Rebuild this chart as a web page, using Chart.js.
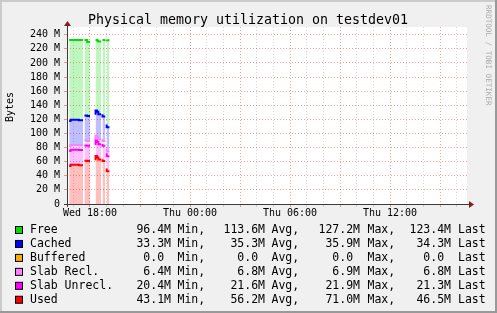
<!DOCTYPE html>
<html>
<head>
<meta charset="utf-8">
<script src="https://cdn.jsdelivr.net/npm/chart.js@4"></script>
<style>
  html, body { margin: 0; padding: 0; background: #f0f0f0; }
  #wrap { width: 497px; height: 313px; }
</style>
</head>
<body>
<div id="wrap"><canvas id="chart" width="497" height="313"></canvas></div>
<script>
// --- Data (values in M) ---
const chartTitle = 'Physical memory utilization on testdev01';
const yTitle = 'Bytes';
const watermark = 'RRDTOOL / TOBI OETIKER';

// sample start times on Wed, 5 minute steps (each value holds for its step)
const sampleTimes = ['16:45', '16:50', '16:55', '17:00', '17:05', '17:10', '17:15', '17:20', '17:25', '17:30',
  '17:35', '17:40', '17:45', '17:50', '17:55', '18:00', '18:05', '18:10', '18:15', '18:20',
  '18:25', '18:30', '18:35', '18:40', '18:45', '18:50', '18:55', '19:00', '19:05'];
const stepMinutes = 5;

const usedData = [54.0, 54.0, 55.5, 55.5, 55.5, 55.5, 55.5, 55.5, 55.0, 55.0,
  null, 61.5, 61.5, 61.5, 61.0, null, null, null, null, 62.0,
  68.0, 66.0, 63.0, null, 63.5, 61.0, null, 50.5, 46.5];
const slabUnreclData = [21.3, 21.3, 21.4, 21.4, 21.4, 21.4, 21.4, 21.4, 21.4, 21.4,
  null, 21.6, 21.6, 21.6, 21.6, null, null, null, null, 21.8,
  21.9, 21.9, 21.8, null, 21.6, 21.5, null, 21.3, 21.3];
const slabReclData = [6.8, 6.8, 6.8, 6.8, 6.8, 6.8, 6.8, 6.8, 6.8, 6.8,
  null, 6.9, 6.9, 6.9, 6.9, null, null, null, null, 6.9,
  6.9, 6.9, 6.9, null, 6.8, 6.8, null, 6.8, 6.8];
const bufferedData = [0, 0, 0, 0, 0, 0, 0, 0, 0, 0,
  null, 0, 0, 0, 0, null, null, null, null, 0,
  0, 0, 0, null, 0, 0, null, 0, 0];
const cachedData = [35.5, 35.5, 35.6, 35.6, 35.6, 35.6, 35.6, 35.6, 35.6, 35.6,
  null, 35.4, 35.4, 35.4, 35.4, null, null, null, null, 35.8,
  35.9, 35.9, 35.7, null, 35.3, 34.8, null, 34.3, 34.3];
const freeData = [114.9, 114.9, 113.2, 113.2, 113.2, 113.2, 113.2, 113.2, 113.7, 113.7,
  null, 107.1, 107.1, 107.1, 105.0, null, null, null, null, 106.0,
  99.8, 101.3, 103.1, null, 105.3, 108.4, null, 119.6, 123.4];

// legend (top to bottom)
const legendNames = ['Free', 'Cached', 'Buffered', 'Slab Recl.', 'Slab Unrecl.', 'Used'];
const legendColors = ['#00dd00', '#0000ff', '#ffaa00', '#ff80ff', '#ff00ff', '#ff0000'];
const minVals = ['96.4M', '33.3M', '0.0 ', '6.4M', '20.4M', '43.1M'];
const avgVals = ['113.6M', '35.3M', '0.0 ', '6.8M', '21.6M', '56.2M'];
const maxVals = ['127.2M', '35.9M', '0.0 ', '6.9M', '21.9M', '71.0M'];
const lastVals = ['123.4M', '34.3M', '0.0 ', '6.8M', '21.3M', '46.5M'];

// axes
const yTicks = [0, 20, 40, 60, 80, 100, 120, 140, 160, 180, 200, 220, 240];
const xGridHours = [17, 18, 19, 20, 21, 22, 23, 24, 25, 26, 27, 28, 29, 30, 31, 32, 33, 34, 35, 36, 37, 38, 39, 40];
const xLabelHours = [18, 24, 30, 36];
const xLabelTexts = ['Wed 18:00', 'Thu 00:00', 'Thu 06:00', 'Thu 12:00'];

// --- Helpers ---
const FONT = 'DejaVu Sans Mono';
const majorGrid = 'rgba(235, 40, 40, 0.45)';
const minorGrid = 'rgba(140, 140, 140, 0.35)';
const STEP_H = stepMinutes / 60;

function toHours(hhmm) {
  const [h, m] = hhmm.split(':').map(Number);
  return h + m / 60;
}

// rrdtool style: each value covers its whole step; a missing step leaves a gap
function series(values) {
  const pts = [];
  values.forEach((v, i) => {
    const t = toHours(sampleTimes[i]);
    if (v === null) {
      pts.push({ x: t + STEP_H / 2, y: null });
      return;
    }
    pts.push({ x: t, y: v });
    const next = values[i + 1];
    if (next === undefined || next === null) pts.push({ x: t + STEP_H, y: v });
  });
  return pts;
}

function fillOf(hex, a) {
  const n = parseInt(hex.slice(1), 16);
  return `rgba(${(n >> 16) & 255}, ${(n >> 8) & 255}, ${n & 255}, ${a})`;
}

// stacking order bottom -> top
const stackOrder = [
  { name: 'Used', data: usedData },
  { name: 'Slab Unrecl.', data: slabUnreclData },
  { name: 'Slab Recl.', data: slabReclData },
  { name: 'Buffered', data: bufferedData },
  { name: 'Cached', data: cachedData },
  { name: 'Free', data: freeData }
];

const datasets = stackOrder.map((s, idx) => {
  const color = legendColors[legendNames.indexOf(s.name)];
  return {
    label: s.name,
    data: series(s.data),
    borderColor: color,
    backgroundColor: fillOf(color, 0.25),
    borderWidth: s.name === 'Buffered' ? 0 : 2,
    fill: idx === 0 ? 'origin' : '-1',
    stepped: 'after',
    pointRadius: 0,
    spanGaps: false
  };
});

// --- Decorations: background, title, axes arrows, legend, frame ---
const rrdDecor = {
  id: 'rrdDecor',
  beforeDraw(chart) {
    const { ctx, chartArea: a } = chart;
    ctx.save();
    ctx.fillStyle = '#f0f0f0';
    ctx.fillRect(0, 0, chart.width, chart.height);
    ctx.fillStyle = '#ffffff';
    ctx.fillRect(a.left, a.top, a.right - a.left, a.bottom - a.top);
    ctx.restore();
  },
  afterDraw(chart) {
    const { ctx, chartArea: a } = chart;
    ctx.save();

    // title
    ctx.fillStyle = '#000';
    ctx.font = `13.3px "${FONT}"`;
    ctx.textAlign = 'center';
    ctx.textBaseline = 'alphabetic';
    ctx.fillText(chartTitle, 248, 24);

    // axis lines
    ctx.strokeStyle = '#3a3a3a';
    ctx.lineWidth = 1;
    ctx.beginPath();
    ctx.moveTo(a.left - 3, a.bottom + 0.5);
    ctx.lineTo(a.right + 3, a.bottom + 0.5);
    ctx.moveTo(a.left + 0.5, a.bottom + 3);
    ctx.lineTo(a.left + 0.5, a.top - 3);
    ctx.stroke();

    // arrows
    ctx.fillStyle = '#8b1a1a';
    ctx.beginPath();
    ctx.moveTo(a.right + 2, a.bottom - 3);
    ctx.lineTo(a.right + 7, a.bottom + 0.5);
    ctx.lineTo(a.right + 2, a.bottom + 4);
    ctx.closePath();
    ctx.fill();
    ctx.beginPath();
    ctx.moveTo(a.left - 3, a.top - 1);
    ctx.lineTo(a.left + 0.5, a.top - 6);
    ctx.lineTo(a.left + 4, a.top - 1);
    ctx.closePath();
    ctx.fill();

    // y title
    ctx.fillStyle = '#000';
    ctx.font = `10px "${FONT}"`;
    ctx.textAlign = 'center';
    ctx.textBaseline = 'middle';
    ctx.translate(10, 107);
    ctx.rotate(-Math.PI / 2);
    ctx.fillText(yTitle, 0, 0);
    ctx.setTransform(1, 0, 0, 1, 0, 0);

    // legend
    ctx.font = `11.5px "${FONT}"`;
    ctx.textBaseline = 'alphabetic';
    legendNames.forEach((name, i) => {
      const base = 233 + i * 13.95;
      ctx.fillStyle = legendColors[i];
      ctx.fillRect(15.5, base - 6.5, 7, 7);
      ctx.strokeStyle = '#000';
      ctx.lineWidth = 1;
      ctx.strokeRect(15.5, base - 6.5, 7, 7);

      ctx.fillStyle = '#000';
      ctx.textAlign = 'left';
      ctx.fillText(name, 30, base);
      ctx.textAlign = 'right';
      ctx.fillText(minVals[i], 171, base);
      ctx.fillText(avgVals[i], 265, base);
      ctx.fillText(maxVals[i], 360, base);
      ctx.fillText(lastVals[i], 451, base);
      ctx.textAlign = 'left';
      ctx.fillText('Min,', 177.5, base);
      ctx.fillText('Avg,', 271.5, base);
      ctx.fillText('Max,', 367.5, base);
      ctx.fillText('Last', 458, base);
    });

    // watermark (reads top to bottom along the right edge)
    ctx.fillStyle = 'rgba(0, 0, 0, 0.3)';
    ctx.font = `7.6px "${FONT}"`;
    ctx.textAlign = 'left';
    ctx.textBaseline = 'top';
    ctx.translate(492, 5);
    ctx.rotate(Math.PI / 2);
    ctx.fillText(watermark, 0, 0);
    ctx.setTransform(1, 0, 0, 1, 0, 0);

    // frame shading
    ctx.fillStyle = '#cbcbcb';
    ctx.fillRect(0, 0, chart.width, 2);
    ctx.fillRect(0, 0, 2, chart.height);
    ctx.fillStyle = '#999999';
    ctx.fillRect(chart.width - 2, 0, 2, chart.height);
    ctx.fillRect(0, chart.height - 2, chart.width, 2);

    ctx.restore();
  }
};

Chart.defaults.font.family = FONT;
Chart.defaults.color = '#000';

new Chart(document.getElementById('chart').getContext('2d'), {
  type: 'line',
  data: { datasets },
  options: {
    responsive: false,
    animation: false,
    events: [],
    layout: { padding: { left: 0, right: 30, top: 27, bottom: 89 } },
    plugins: {
      legend: { display: false },
      tooltip: { enabled: false },
      title: { display: false }
    },
    scales: {
      x: {
        type: 'linear',
        min: 16.62,
        max: 40.62,
        afterFit: s => { s.height = 20; },
        afterBuildTicks: s => { s.ticks = xGridHours.map(v => ({ value: v })); },
        grid: {
          color: c => (c.tick && c.tick.value % 3 === 0 ? majorGrid : minorGrid),
          tickColor: c => (c.tick && c.tick.value % 3 === 0 ? majorGrid : minorGrid),
          tickLength: 3,
          lineWidth: 1
        },
        border: { display: false, dash: [1, 2] },
        ticks: {
          autoSkip: false,
          maxRotation: 0,
          padding: 0,
          color: '#000',
          font: { size: 10 },
          callback: v => {
            const k = xLabelHours.indexOf(v);
            return k >= 0 ? xLabelTexts[k] : '';
          }
        }
      },
      y: {
        stacked: true,
        min: 0,
        max: 251,
        afterFit: s => { s.width = 67; },
        afterBuildTicks: s => { s.ticks = yTicks.map(v => ({ value: v })); },
        grid: { color: majorGrid, tickColor: majorGrid, tickLength: 3, lineWidth: 1 },
        border: { display: false, dash: [1, 2] },
        ticks: {
          autoSkip: false,
          padding: 4,
          color: '#000',
          font: { size: 10 },
          callback: v => (v === 0 ? '0' : v + ' M')
        }
      }
    }
  },
  plugins: [rrdDecor]
});
</script>
</body>
</html>
